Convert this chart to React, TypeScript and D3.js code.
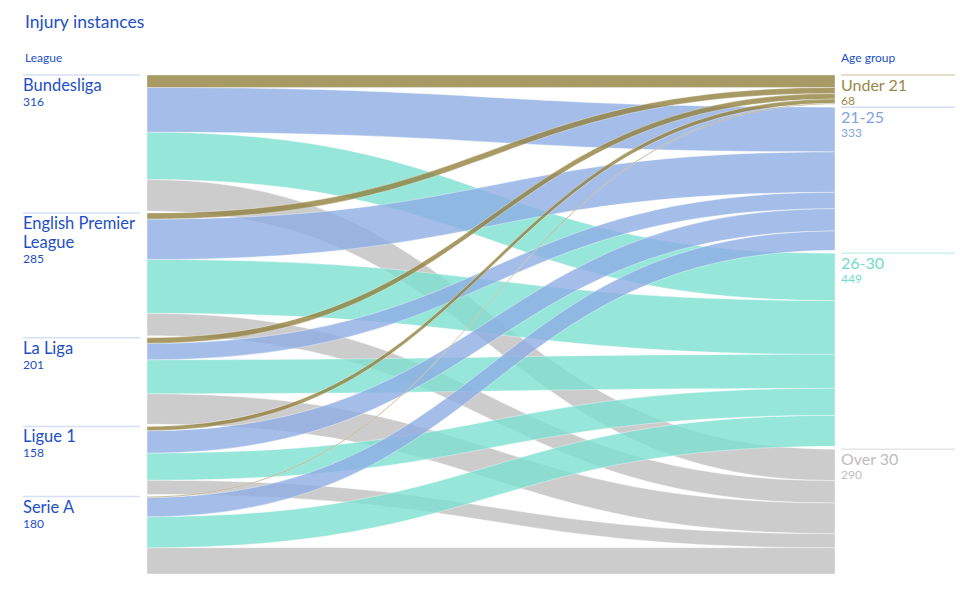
import React from "react";
import * as d3 from "d3";

// leagues (sources) and age groups (targets)
const leagues = ["Bundesliga", "English Premier League", "La Liga", "Ligue 1", "Serie A"];
const ageGroups = ["Under 21", "21-25", "26-30", "Over 30"];

// injury instances per league, split by age group (same order as ageGroups)
const bundesliga = [29, 104, 110, 73];
const premierLeague = [14, 94, 125, 52];
const laLiga = [13, 38, 79, 71];
const ligue1 = [10, 52, 63, 33];
const serieA = [2, 45, 72, 61];
const flows = [bundesliga, premierLeague, laLiga, ligue1, serieA];

const ageFill = ["#92813e", "#8daee3", "#7ce0d1", "#bfbfbf"];
const ageText = ["#9a8649", "#7fa3e0", "#6fdccb", "#bdbdbd"];
const ageRule = ["#dcd4b8", "#d3e0f5", "#c9f2ec", "#e6e6e6"];
const blueText = "#1d4fc6";

const W = 960;
const H = 606;
const top = 75;
const bottom = 574;
const xLeft = 147;
const xRight = 835;
const padLeft = 2.2;

const measureCanvas = typeof document !== "undefined" ? document.createElement("canvas") : null;
function wrap(text: string, maxWidth: number, font: string): string[] {
    const ctx = measureCanvas ? measureCanvas.getContext("2d") : null;
    if (!ctx) return [text];
    ctx.font = font;
    const words = text.split(" ");
    const lines: string[] = [];
    let cur = "";
    words.forEach(w => {
        const test = cur ? cur + " " + w : w;
        if (ctx.measureText(test).width > maxWidth && cur) {
            lines.push(cur);
            cur = w;
        } else cur = test;
    });
    if (cur) lines.push(cur);
    return lines;
}

export default function App() {
    const leagueTotals = flows.map(row => d3.sum(row));
    const ageTotals = ageGroups.map((_, j) => d3.sum(flows, row => row[j]));
    const total = d3.sum(leagueTotals);

    const k = (bottom - top - padLeft * (leagues.length - 1)) / total;
    const padRight = (bottom - top - total * k) / (ageGroups.length - 1);
    const h = d3.scaleLinear().domain([0, total]).range([0, total * k]);

    // node tops
    const leftY: number[] = [];
    let y = top;
    leagueTotals.forEach(v => {
        leftY.push(y);
        y += h(v) + padLeft;
    });
    const rightY: number[] = [];
    y = top;
    ageTotals.forEach(v => {
        rightY.push(y);
        y += h(v) + padRight;
    });

    // link positions
    type Link = { s: number; t: number; sy0: number; sy1: number; ty0: number; ty1: number };
    const links: Link[] = [];
    const srcOff = leftY.slice();
    const tgtOff = rightY.slice();
    // source side ordered by target, target side ordered by source
    const srcPos: number[][] = flows.map((row, i) =>
        row.map(v => {
            const p = srcOff[i];
            srcOff[i] += h(v);
            return p;
        })
    );
    const tgtPos: number[][] = flows.map(row => row.map(() => 0));
    ageGroups.forEach((_, j) => {
        flows.forEach((row, i) => {
            tgtPos[i][j] = tgtOff[j];
            tgtOff[j] += h(row[j]);
        });
    });
    flows.forEach((row, i) =>
        row.forEach((v, j) => {
            links.push({
                s: i,
                t: j,
                sy0: srcPos[i][j],
                sy1: srcPos[i][j] + h(v),
                ty0: tgtPos[i][j],
                ty1: tgtPos[i][j] + h(v)
            });
        })
    );

    const xm = (xLeft + xRight) / 2;
    const ribbon = (l: Link) => {
        const p = d3.path();
        p.moveTo(xLeft, l.sy0);
        p.bezierCurveTo(xm, l.sy0, xm, l.ty0, xRight, l.ty0);
        p.lineTo(xRight, l.ty1);
        p.bezierCurveTo(xm, l.ty1, xm, l.sy1, xLeft, l.sy1);
        p.closePath();
        return p.toString();
    };

    // draw gray first, gold last
    const ordered = [3, 2, 1, 0].flatMap(j => links.filter(l => l.t === j));

    const labelSize = 16.5;
    const labelFont = labelSize + "px Lato";

    return (
        <div style={{ position: "absolute", left: 0, top: 0 }}>
            <svg width={W} height={H} style={{ display: "block", fontFamily: "Lato, 'Noto Sans', sans-serif" }}>
                <rect width={W} height={H} fill="#fff" />
                <text x={25} y={28} fontSize={17.5} fill={blueText}>
                    Injury instances
                </text>
                <text x={25} y={62} fontSize={12} fill={blueText}>
                    League
                </text>
                <text x={841} y={62} fontSize={12} fill={blueText}>
                    Age group
                </text>

                <g>
                    {ordered.map((l, i) => (
                        <path
                            key={i}
                            d={ribbon(l)}
                            fill={ageFill[l.t]}
                            fillOpacity={0.8}
                            stroke="#fff"
                            strokeOpacity={0.6}
                            strokeWidth={0.6}
                        />
                    ))}
                </g>

                {leagues.map((name, i) => {
                    const lines = wrap(name, 122, labelFont);
                    const y0 = leftY[i];
                    return (
                        <g key={name}>
                            <line x1={23} x2={140} y1={y0} y2={y0} stroke="#d3e0f5" strokeWidth={1.5} />
                            {lines.map((ln, li) => (
                                <text key={li} x={23} y={y0 + 16 + li * 19} fontSize={labelSize} fill={blueText}>
                                    {ln}
                                </text>
                            ))}
                            <text x={23} y={y0 + 16 + (lines.length - 1) * 19 + 15} fontSize={12} fill={blueText}>
                                {leagueTotals[i]}
                            </text>
                        </g>
                    );
                })}

                {ageGroups.map((name, j) => {
                    const y0 = rightY[j];
                    return (
                        <g key={name}>
                            <line x1={841} x2={955} y1={y0} y2={y0} stroke={ageRule[j]} strokeWidth={1.5} />
                            <text x={841} y={y0 + 16} fontSize={16} fill={ageText[j]}>
                                {name}
                            </text>
                            <text x={841} y={y0 + 30} fontSize={12} fill={ageText[j]}>
                                {ageTotals[j]}
                            </text>
                        </g>
                    );
                })}
            </svg>
        </div>
    );
}
